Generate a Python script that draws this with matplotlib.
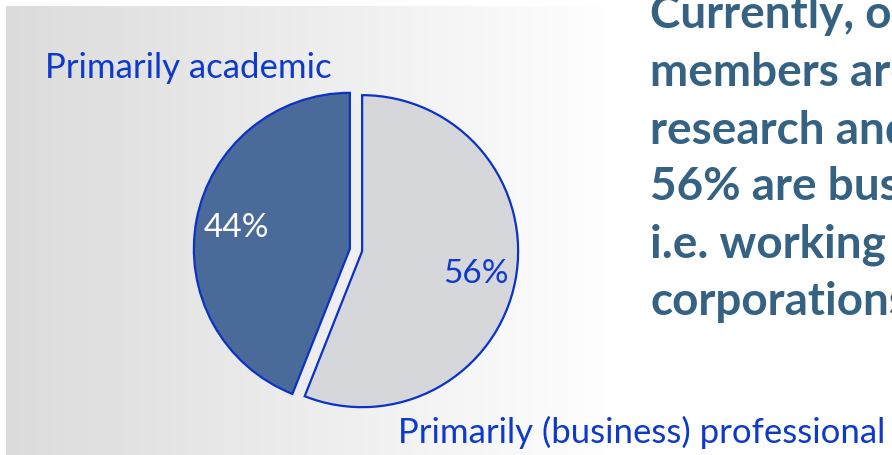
import numpy as np
import matplotlib
matplotlib.use("Agg")
import matplotlib.pyplot as plt

categories = ["Primarily (business) professional", "Primarily academic"]
values = [56, 44]
side_lines = ["Currently, of our", "members are in", "research and academia,",
              "56% are business professionals,", "i.e. working in", "corporations."]

W, H = 892, 456
fig = plt.figure(figsize=(W / 100, H / 100), dpi=100)
fig.patch.set_facecolor("white")

# background axes in pixel coordinates
bg = fig.add_axes([0, 0, 1, 1])
bg.axis("off")
grad = np.linspace(0.86, 1.0, 256)
img = np.dstack([grad, grad, grad]).repeat(2, axis=0)
bg.imshow(img, extent=[6, 620, H, 7], aspect="auto", interpolation="bilinear", zorder=0)
bg.set_xlim(0, W)
bg.set_ylim(H, 0)

blue = "#0d3acb"
label_font = "Lato"
bg.text(45, 68, categories[1], color=blue, fontsize=25, family=label_font,
        ha="left", va="center")
bg.text(398, 432, categories[0], color=blue, fontsize=25, family=label_font,
        ha="left", va="center")

for i, line in enumerate(side_lines):
    bg.text(650, 15 + i * 57.5, line, color="#356183", fontsize=33, fontweight="bold",
            family=label_font, ha="left", va="center", clip_on=False)

# pie axes
L = 1.2
r_px = 156
cx, cy = 356, 251
S = 2 * r_px * L
pax = fig.add_axes([(cx - S / 2) / W, (H - cy - S / 2) / H, S / W, S / H])
pax.axis("off")
wedges, texts, autotexts = pax.pie(
    values, startangle=90, counterclock=False, explode=[0.04, 0.04],
    colors=["#d6d7da", "#4a6b99"], autopct="%d%%", pctdistance=0.74,
    wedgeprops=dict(edgecolor="#0a32c8", linewidth=1.6),
    textprops=dict(fontsize=24, family=label_font))
pax.set_xlim(-L, L)
pax.set_ylim(-L, L)
pax.set_aspect("equal")
autotexts[0].set_color(blue)
autotexts[1].set_color("white")

fig.savefig("out.png", dpi=100, facecolor="white")
